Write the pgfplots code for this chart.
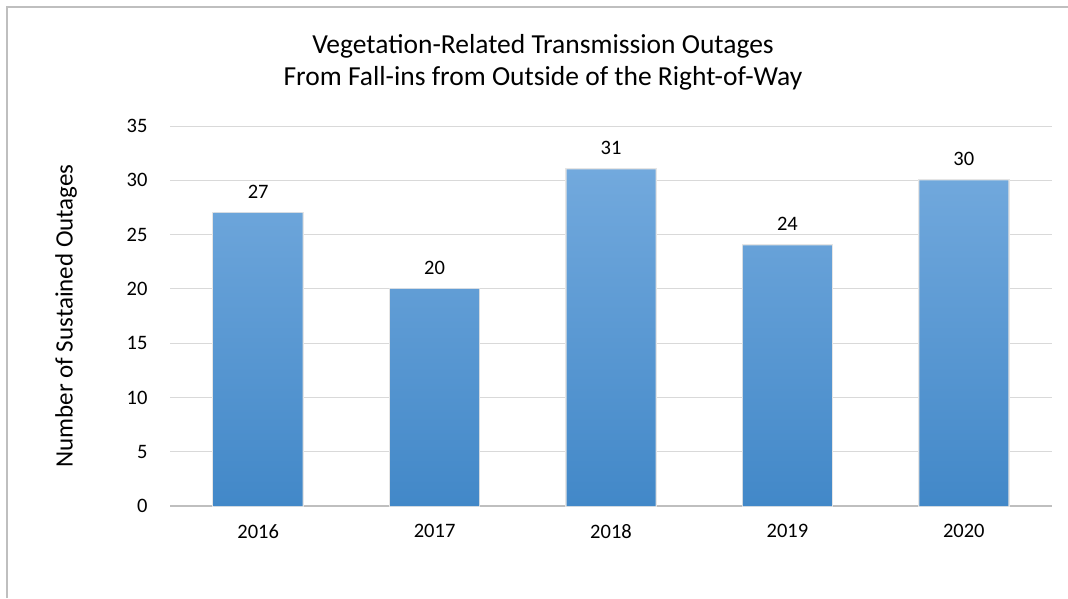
\documentclass[border=0pt]{standalone}
\usepackage{pgfplots}
\pgfplotsset{compat=1.18}
\usepackage{fontspec}
\setmainfont{Carlito}
\definecolor{gridc}{HTML}{D9D9D9}
\definecolor{axc}{HTML}{BFBFBF}
\definecolor{bartop}{RGB}{114,169,221}
\definecolor{barbot}{RGB}{66,136,200}
\begin{document}
\begin{tikzpicture}[x=1pt,y=1pt]
\useasboundingbox (0,0) rectangle (1068,598);
\draw[line width=1.5pt, color=black!25] (7,0) -- (7,591) -- (1068,591);
\node[font=\fontsize{27.5}{32}\selectfont, align=center] at (543,536) {Vegetation-Related Transmission Outages\\From Fall-ins from Outside of the Right-of-Way};
\begin{axis}[
  at={(170pt,92pt)}, anchor=south west,
  scale only axis, width=882pt, height=380pt,
  ymin=0, ymax=35, ytick={0,5,...,35},
  xmin=-0.5, xmax=4.5, xtick=data,
  xticklabels={2016,2017,2018,2019,2020},
  ybar, bar width=89pt,
  axis line style={draw=none},
  ymajorgrids, grid style={gridc, line width=1pt},
  major tick length=0pt,
  tick label style={font=\fontsize{20.5}{24}\selectfont},
  /pgf/number format/assume math mode=true,
  yticklabel style={xshift=-19pt},
  xticklabel style={yshift=-15pt},
  ylabel={Number of Sustained Outages},
  ylabel style={font=\fontsize{25}{30}\selectfont, yshift=43pt},
  nodes near coords,
  every node near coord/.append style={font=\fontsize{20.5}{24}\selectfont, yshift=11pt},
  clip=false,
]
\draw[axc, line width=1.2pt] (axis cs:-0.5,0) -- (axis cs:4.5,0);
\addplot[draw=none, top color=bartop, bottom color=barbot,
  preaction={draw=black!10, line width=2.5pt}] coordinates {(0,27) (1,20) (2,31) (3,24) (4,30)};
\end{axis}
\end{tikzpicture}
\end{document}
